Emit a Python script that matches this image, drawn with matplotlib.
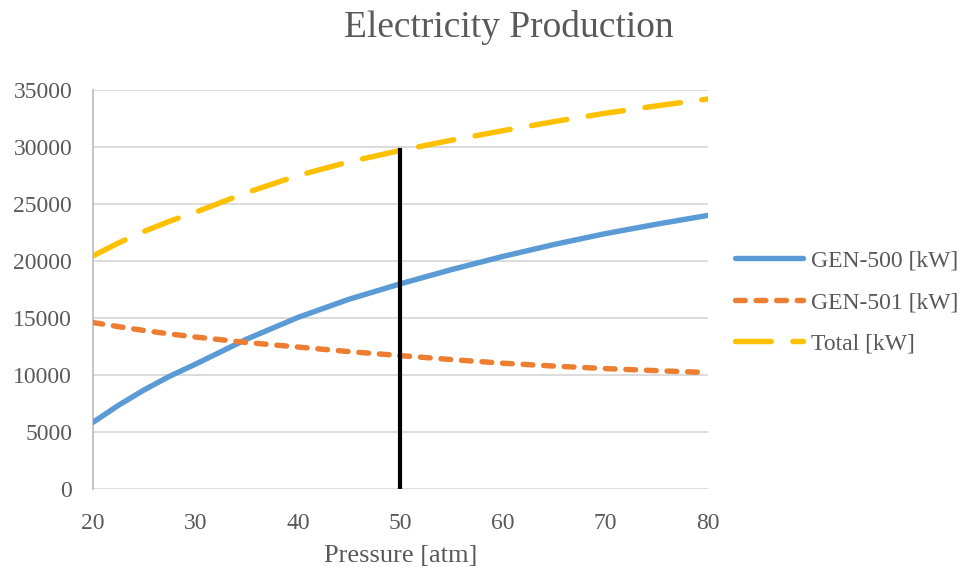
import matplotlib
matplotlib.use("Agg")
import matplotlib.pyplot as plt

# values
pressure = [20, 22.5, 25, 27.5, 30, 35, 40, 45, 50, 55, 60, 65, 70, 75, 80]
gen500 = [5850, 7350, 8700, 9900, 10950, 13150, 15050, 16650, 18000, 19250, 20400, 21450, 22400, 23230, 24000]
gen501 = [14600, 14240, 13900, 13600, 13330, 12850, 12450, 12050, 11700, 11350, 11030, 10780, 10560, 10380, 10210]
total = [20450, 21590, 22600, 23500, 24280, 26000, 27500, 28700, 29700, 30600, 31430, 32230, 32960, 33610, 34210]
marker_p = 50
marker_top = 29700
labels = ["GEN-500 [kW]", "GEN-501 [kW]", "Total [kW]"]

plt.rcParams['font.family'] = ['Liberation Serif', 'DejaVu Serif']
txt = '#595959'

fig = plt.figure(figsize=(9.61, 5.67), dpi=100)
ax = fig.add_axes([0.0968, 0.1376, 0.6399, 0.7037])

lw = 3.9
ax.plot(pressure, gen500, color='#5B9BD5', lw=lw, solid_capstyle='round', label=labels[0], zorder=3)
ax.plot(pressure, gen501, color='#ED7D31', lw=lw, dashes=(1.8, 2.0), dash_capstyle='round', label=labels[1], zorder=3)
ax.plot(pressure, total, color='#FFC000', lw=lw, dashes=(6.6, 4.0), dash_capstyle='round', label=labels[2], zorder=3)
ax.plot([marker_p, marker_p], [0, marker_top], color='black', lw=3, zorder=4)

ax.set_xlim(20, 80)
ax.set_ylim(0, 35000)
ax.set_xticks(range(20, 81, 10))
ax.set_yticks(range(0, 35001, 5000))
ax.grid(axis='y', color='#D9D9D9', lw=1.3, zorder=0)
ax.set_axisbelow(True)
for s in ['top', 'right', 'bottom']:
    ax.spines[s].set_visible(False)
ax.spines['left'].set_color('#BFBFBF')
ax.spines['left'].set_linewidth(1.3)
ax.tick_params(length=0, labelsize=17, labelcolor=txt)
ax.tick_params(axis='y', pad=15)
ax.tick_params(axis='x', pad=17)
ax.set_xlabel("Pressure [atm]", fontsize=19, color=txt, labelpad=8)

fig.text(0.529, 0.952, "Electricity Production", fontsize=27, color=txt, ha='center', va='center')

leg = ax.legend(loc='center left', bbox_to_anchor=(1.044, 0.468), frameon=False,
                fontsize=17, labelcolor=txt, handlelength=2.9, handletextpad=0.3,
                labelspacing=0.85, borderpad=0, borderaxespad=0)

fig.savefig("out.png", dpi=100)
